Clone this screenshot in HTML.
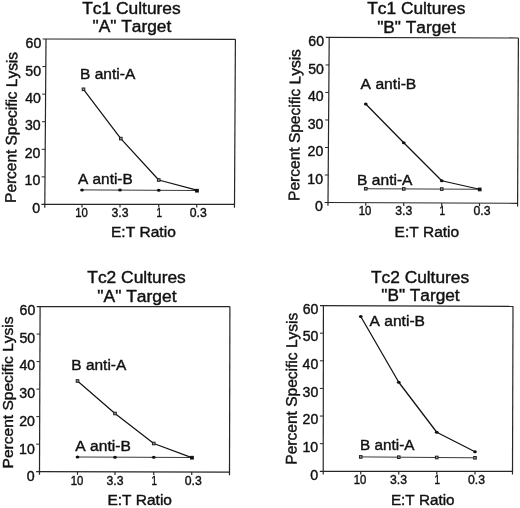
<!DOCTYPE html>
<html><head><meta charset="utf-8"><title>Figure</title>
<style>html,body{margin:0;padding:0;background:#fff}svg{display:block}text{font-family:"Liberation Sans", sans-serif;font-kerning:none;}</style>
</head><body>
<svg width="520" height="508" viewBox="0 0 520 508">
<rect width="520" height="508" fill="#fff"/>
<line x1="42.60" y1="39.00" x2="235.40" y2="39.30" stroke="#262626" stroke-width="1.2"/>
<line x1="46.00" y1="39.00" x2="44.78" y2="207.65" stroke="#262626" stroke-width="1.2"/>
<line x1="235.40" y1="39.30" x2="234.48" y2="207.65" stroke="#262626" stroke-width="1.2"/>
<line x1="41.40" y1="204.45" x2="234.50" y2="204.45" stroke="#262626" stroke-width="1.2"/>
<line x1="41.60" y1="176.88" x2="45.00" y2="176.88" stroke="#262626" stroke-width="1.0"/>
<line x1="41.80" y1="149.30" x2="45.20" y2="149.30" stroke="#262626" stroke-width="1.0"/>
<line x1="42.00" y1="121.72" x2="45.40" y2="121.72" stroke="#262626" stroke-width="1.0"/>
<line x1="42.20" y1="94.15" x2="45.60" y2="94.15" stroke="#262626" stroke-width="1.0"/>
<line x1="42.40" y1="66.57" x2="45.80" y2="66.57" stroke="#262626" stroke-width="1.0"/>
<line x1="82.00" y1="204.45" x2="82.00" y2="207.55" stroke="#262626" stroke-width="1.15"/>
<line x1="120.00" y1="204.45" x2="120.00" y2="207.55" stroke="#262626" stroke-width="1.15"/>
<line x1="158.75" y1="204.45" x2="158.75" y2="207.55" stroke="#262626" stroke-width="1.15"/>
<line x1="196.75" y1="204.45" x2="196.75" y2="207.55" stroke="#262626" stroke-width="1.15"/>
<text x="32.15" y="212.85" font-size="13.8" textLength="7.90" lengthAdjust="spacingAndGlyphs" fill="#111" stroke="#111" stroke-width="0.4">0</text>
<text x="24.55" y="185.39" font-size="13.8" textLength="15.70" lengthAdjust="spacingAndGlyphs" fill="#111" stroke="#111" stroke-width="0.4">10</text>
<text x="24.75" y="157.93" font-size="13.8" textLength="15.70" lengthAdjust="spacingAndGlyphs" fill="#111" stroke="#111" stroke-width="0.4">20</text>
<text x="24.95" y="130.47" font-size="13.8" textLength="15.70" lengthAdjust="spacingAndGlyphs" fill="#111" stroke="#111" stroke-width="0.4">30</text>
<text x="25.15" y="103.02" font-size="13.8" textLength="15.70" lengthAdjust="spacingAndGlyphs" fill="#111" stroke="#111" stroke-width="0.4">40</text>
<text x="25.35" y="75.56" font-size="13.8" textLength="15.70" lengthAdjust="spacingAndGlyphs" fill="#111" stroke="#111" stroke-width="0.4">50</text>
<text x="25.55" y="48.10" font-size="13.8" textLength="15.70" lengthAdjust="spacingAndGlyphs" fill="#111" stroke="#111" stroke-width="0.4">60</text>
<text x="75.20" y="217.20" font-size="12.6" textLength="12.60" lengthAdjust="spacingAndGlyphs" fill="#111" stroke="#111" stroke-width="0.4">10</text>
<text x="111.50" y="217.20" font-size="12.6" textLength="17.00" lengthAdjust="spacingAndGlyphs" fill="#111" stroke="#111" stroke-width="0.4">3.3</text>
<text x="156.50" y="217.20" font-size="12.6" textLength="5.50" lengthAdjust="spacingAndGlyphs" fill="#111" stroke="#111" stroke-width="0.4">1</text>
<text x="189.75" y="217.20" font-size="12.6" textLength="17.00" lengthAdjust="spacingAndGlyphs" fill="#111" stroke="#111" stroke-width="0.4">0.3</text>
<text x="111.00" y="237.40" font-size="15.2" textLength="64.80" lengthAdjust="spacingAndGlyphs" fill="#111" stroke="#111" stroke-width="0.4">E:T Ratio</text>
<text transform="translate(15.80,202.90) rotate(-89.42)" x="0" y="0" font-size="15.4" textLength="150.90" lengthAdjust="spacingAndGlyphs" fill="#111" stroke="#111" stroke-width="0.4">Percent Specific Lysis</text>
<text x="82.20" y="14.15" font-size="16" textLength="98.50" lengthAdjust="spacingAndGlyphs" fill="#111" stroke="#111" stroke-width="0.4">Tc1 Cultures</text>
<text x="92.50" y="32.45" font-size="16" textLength="78.80" lengthAdjust="spacingAndGlyphs" fill="#111" stroke="#111" stroke-width="0.4">&quot;A&quot; Target</text>
<polyline points="82.00,189.90 120.00,190.10 158.75,190.30 196.75,190.50" fill="none" stroke="#222" stroke-width="0.9" stroke-linejoin="round"/>
<polyline points="83.50,89.30 120.80,138.60 158.75,180.00 196.75,190.20" fill="none" stroke="#111" stroke-width="1.2" stroke-linejoin="round"/>
<ellipse cx="82.00" cy="189.90" rx="1.85" ry="1.5" fill="#111"/>
<ellipse cx="120.00" cy="190.10" rx="1.85" ry="1.5" fill="#111"/>
<ellipse cx="158.75" cy="190.30" rx="1.85" ry="1.5" fill="#111"/>
<rect x="82.20" y="88.00" width="2.6" height="2.6" fill="#999" stroke="#222" stroke-width="1.0"/>
<rect x="119.50" y="137.30" width="2.6" height="2.6" fill="#999" stroke="#222" stroke-width="1.0"/>
<rect x="157.45" y="178.70" width="2.6" height="2.6" fill="#999" stroke="#222" stroke-width="1.0"/>
<rect x="195.60" y="189.35" width="2.7" height="2.7" fill="#111" stroke="#111" stroke-width="1.0"/>
<text x="80.00" y="78.80" font-size="15.3" textLength="55.30" lengthAdjust="spacingAndGlyphs" fill="#111" stroke="#111" stroke-width="0.4">B anti-A</text>
<text x="78.00" y="184.00" font-size="15.3" textLength="54.70" lengthAdjust="spacingAndGlyphs" fill="#111" stroke="#111" stroke-width="0.4">A anti-B</text>
<line x1="325.80" y1="37.45" x2="518.40" y2="38.00" stroke="#262626" stroke-width="1.2"/>
<line x1="329.20" y1="37.45" x2="327.98" y2="205.70" stroke="#262626" stroke-width="1.2"/>
<line x1="518.40" y1="38.00" x2="517.58" y2="206.50" stroke="#262626" stroke-width="1.2"/>
<line x1="324.60" y1="202.50" x2="517.60" y2="203.30" stroke="#262626" stroke-width="1.2"/>
<line x1="324.80" y1="174.99" x2="328.20" y2="174.99" stroke="#262626" stroke-width="1.0"/>
<line x1="325.00" y1="147.48" x2="328.40" y2="147.48" stroke="#262626" stroke-width="1.0"/>
<line x1="325.20" y1="119.97" x2="328.60" y2="119.97" stroke="#262626" stroke-width="1.0"/>
<line x1="325.40" y1="92.47" x2="328.80" y2="92.47" stroke="#262626" stroke-width="1.0"/>
<line x1="325.60" y1="64.96" x2="329.00" y2="64.96" stroke="#262626" stroke-width="1.0"/>
<line x1="365.75" y1="202.66" x2="365.75" y2="205.76" stroke="#262626" stroke-width="1.15"/>
<line x1="403.75" y1="202.82" x2="403.75" y2="205.92" stroke="#262626" stroke-width="1.15"/>
<line x1="441.75" y1="202.98" x2="441.75" y2="206.08" stroke="#262626" stroke-width="1.15"/>
<line x1="479.50" y1="203.14" x2="479.50" y2="206.24" stroke="#262626" stroke-width="1.15"/>
<text x="314.95" y="211.10" font-size="13.8" textLength="7.90" lengthAdjust="spacingAndGlyphs" fill="#111" stroke="#111" stroke-width="0.4">0</text>
<text x="307.35" y="183.59" font-size="13.8" textLength="15.70" lengthAdjust="spacingAndGlyphs" fill="#111" stroke="#111" stroke-width="0.4">10</text>
<text x="307.55" y="156.08" font-size="13.8" textLength="15.70" lengthAdjust="spacingAndGlyphs" fill="#111" stroke="#111" stroke-width="0.4">20</text>
<text x="307.75" y="128.57" font-size="13.8" textLength="15.70" lengthAdjust="spacingAndGlyphs" fill="#111" stroke="#111" stroke-width="0.4">30</text>
<text x="307.95" y="101.07" font-size="13.8" textLength="15.70" lengthAdjust="spacingAndGlyphs" fill="#111" stroke="#111" stroke-width="0.4">40</text>
<text x="308.15" y="73.56" font-size="13.8" textLength="15.70" lengthAdjust="spacingAndGlyphs" fill="#111" stroke="#111" stroke-width="0.4">50</text>
<text x="308.35" y="46.05" font-size="13.8" textLength="15.70" lengthAdjust="spacingAndGlyphs" fill="#111" stroke="#111" stroke-width="0.4">60</text>
<text x="358.65" y="215.40" font-size="12.6" textLength="12.60" lengthAdjust="spacingAndGlyphs" fill="#111" stroke="#111" stroke-width="0.4">10</text>
<text x="395.25" y="215.40" font-size="12.6" textLength="17.00" lengthAdjust="spacingAndGlyphs" fill="#111" stroke="#111" stroke-width="0.4">3.3</text>
<text x="439.60" y="215.40" font-size="12.6" textLength="5.50" lengthAdjust="spacingAndGlyphs" fill="#111" stroke="#111" stroke-width="0.4">1</text>
<text x="473.50" y="215.40" font-size="12.6" textLength="17.00" lengthAdjust="spacingAndGlyphs" fill="#111" stroke="#111" stroke-width="0.4">0.3</text>
<text x="394.60" y="237.00" font-size="15.2" textLength="64.60" lengthAdjust="spacingAndGlyphs" fill="#111" stroke="#111" stroke-width="0.4">E:T Ratio</text>
<text transform="translate(299.20,200.90) rotate(-89.54)" x="0" y="0" font-size="15.4" textLength="151.80" lengthAdjust="spacingAndGlyphs" fill="#111" stroke="#111" stroke-width="0.4">Percent Specific Lysis</text>
<text x="367.30" y="14.15" font-size="16" textLength="98.00" lengthAdjust="spacingAndGlyphs" fill="#111" stroke="#111" stroke-width="0.4">Tc1 Cultures</text>
<text x="377.20" y="32.55" font-size="16" textLength="78.60" lengthAdjust="spacingAndGlyphs" fill="#111" stroke="#111" stroke-width="0.4">&quot;B&quot; Target</text>
<polyline points="365.75,188.75 403.75,188.92 441.75,189.08 479.50,189.25" fill="none" stroke="#222" stroke-width="0.9" stroke-linejoin="round"/>
<polyline points="365.75,104.00 403.75,142.80 441.75,180.75 479.50,189.25" fill="none" stroke="#111" stroke-width="1.25" stroke-linejoin="round"/>
<rect x="364.45" y="187.45" width="2.6" height="2.6" fill="#999" stroke="#222" stroke-width="1.0"/>
<rect x="402.45" y="187.62" width="2.6" height="2.6" fill="#999" stroke="#222" stroke-width="1.0"/>
<rect x="440.45" y="187.78" width="2.6" height="2.6" fill="#999" stroke="#222" stroke-width="1.0"/>
<ellipse cx="365.75" cy="104.00" rx="1.85" ry="1.5" fill="#111"/>
<ellipse cx="403.75" cy="142.80" rx="1.85" ry="1.5" fill="#111"/>
<ellipse cx="441.75" cy="180.75" rx="1.85" ry="1.5" fill="#111"/>
<rect x="478.35" y="188.10" width="2.7" height="2.7" fill="#111" stroke="#111" stroke-width="1.0"/>
<text x="360.60" y="88.70" font-size="15.3" textLength="55.70" lengthAdjust="spacingAndGlyphs" fill="#111" stroke="#111" stroke-width="0.4">A anti-B</text>
<text x="357.10" y="184.70" font-size="15.3" textLength="55.40" lengthAdjust="spacingAndGlyphs" fill="#111" stroke="#111" stroke-width="0.4">B anti-A</text>
<line x1="36.70" y1="306.55" x2="229.90" y2="306.60" stroke="#262626" stroke-width="1.2"/>
<line x1="40.10" y1="306.55" x2="39.49" y2="474.85" stroke="#262626" stroke-width="1.2"/>
<line x1="229.90" y1="306.60" x2="229.49" y2="475.30" stroke="#262626" stroke-width="1.2"/>
<line x1="36.10" y1="471.65" x2="229.50" y2="472.10" stroke="#262626" stroke-width="1.2"/>
<line x1="36.20" y1="444.13" x2="39.60" y2="444.13" stroke="#262626" stroke-width="1.0"/>
<line x1="36.30" y1="416.62" x2="39.70" y2="416.62" stroke="#262626" stroke-width="1.0"/>
<line x1="36.40" y1="389.10" x2="39.80" y2="389.10" stroke="#262626" stroke-width="1.0"/>
<line x1="36.50" y1="361.58" x2="39.90" y2="361.58" stroke="#262626" stroke-width="1.0"/>
<line x1="36.60" y1="334.07" x2="40.00" y2="334.07" stroke="#262626" stroke-width="1.0"/>
<line x1="77.50" y1="471.74" x2="77.50" y2="474.84" stroke="#262626" stroke-width="1.15"/>
<line x1="115.00" y1="471.83" x2="115.00" y2="474.93" stroke="#262626" stroke-width="1.15"/>
<line x1="153.75" y1="471.92" x2="153.75" y2="475.02" stroke="#262626" stroke-width="1.15"/>
<line x1="191.75" y1="472.01" x2="191.75" y2="475.11" stroke="#262626" stroke-width="1.15"/>
<text x="26.80" y="481.35" font-size="13.8" textLength="7.90" lengthAdjust="spacingAndGlyphs" fill="#111" stroke="#111" stroke-width="0.4">0</text>
<text x="19.10" y="453.60" font-size="13.8" textLength="15.70" lengthAdjust="spacingAndGlyphs" fill="#111" stroke="#111" stroke-width="0.4">10</text>
<text x="19.20" y="425.85" font-size="13.8" textLength="15.70" lengthAdjust="spacingAndGlyphs" fill="#111" stroke="#111" stroke-width="0.4">20</text>
<text x="19.30" y="398.10" font-size="13.8" textLength="15.70" lengthAdjust="spacingAndGlyphs" fill="#111" stroke="#111" stroke-width="0.4">30</text>
<text x="19.40" y="370.35" font-size="13.8" textLength="15.70" lengthAdjust="spacingAndGlyphs" fill="#111" stroke="#111" stroke-width="0.4">40</text>
<text x="19.50" y="342.60" font-size="13.8" textLength="15.70" lengthAdjust="spacingAndGlyphs" fill="#111" stroke="#111" stroke-width="0.4">50</text>
<text x="19.60" y="314.85" font-size="13.8" textLength="15.70" lengthAdjust="spacingAndGlyphs" fill="#111" stroke="#111" stroke-width="0.4">60</text>
<text x="70.70" y="484.70" font-size="12.6" textLength="12.60" lengthAdjust="spacingAndGlyphs" fill="#111" stroke="#111" stroke-width="0.4">10</text>
<text x="106.50" y="484.70" font-size="12.6" textLength="17.00" lengthAdjust="spacingAndGlyphs" fill="#111" stroke="#111" stroke-width="0.4">3.3</text>
<text x="151.50" y="484.70" font-size="12.6" textLength="5.50" lengthAdjust="spacingAndGlyphs" fill="#111" stroke="#111" stroke-width="0.4">1</text>
<text x="184.75" y="484.70" font-size="12.6" textLength="17.00" lengthAdjust="spacingAndGlyphs" fill="#111" stroke="#111" stroke-width="0.4">0.3</text>
<text x="107.40" y="505.20" font-size="15.2" textLength="64.60" lengthAdjust="spacingAndGlyphs" fill="#111" stroke="#111" stroke-width="0.4">E:T Ratio</text>
<text transform="translate(12.50,468.40) rotate(-90)" x="0" y="0" font-size="15.4" textLength="152.00" lengthAdjust="spacingAndGlyphs" fill="#111" stroke="#111" stroke-width="0.4">Percent Specific Lysis</text>
<text x="87.30" y="283.25" font-size="16" textLength="98.50" lengthAdjust="spacingAndGlyphs" fill="#111" stroke="#111" stroke-width="0.4">Tc2 Cultures</text>
<text x="97.30" y="301.60" font-size="16" textLength="79.30" lengthAdjust="spacingAndGlyphs" fill="#111" stroke="#111" stroke-width="0.4">&quot;A&quot; Target</text>
<polyline points="77.50,457.00 115.00,457.16 153.75,457.33 191.75,457.50" fill="none" stroke="#222" stroke-width="0.9" stroke-linejoin="round"/>
<polyline points="77.50,381.00 115.00,413.50 153.75,443.50 191.75,457.60" fill="none" stroke="#111" stroke-width="1.2" stroke-linejoin="round"/>
<ellipse cx="77.50" cy="457.00" rx="1.85" ry="1.5" fill="#111"/>
<ellipse cx="115.00" cy="457.16" rx="1.85" ry="1.5" fill="#111"/>
<ellipse cx="153.75" cy="457.33" rx="1.85" ry="1.5" fill="#111"/>
<rect x="76.20" y="379.70" width="2.6" height="2.6" fill="#999" stroke="#222" stroke-width="1.0"/>
<rect x="113.70" y="412.20" width="2.6" height="2.6" fill="#999" stroke="#222" stroke-width="1.0"/>
<rect x="152.45" y="442.20" width="2.6" height="2.6" fill="#999" stroke="#222" stroke-width="1.0"/>
<rect x="190.60" y="456.35" width="2.7" height="2.7" fill="#111" stroke="#111" stroke-width="1.0"/>
<text x="71.30" y="369.60" font-size="15.3" textLength="55.00" lengthAdjust="spacingAndGlyphs" fill="#111" stroke="#111" stroke-width="0.4">B anti-A</text>
<text x="75.30" y="450.50" font-size="15.3" textLength="55.50" lengthAdjust="spacingAndGlyphs" fill="#111" stroke="#111" stroke-width="0.4">A anti-B</text>
<line x1="320.00" y1="305.55" x2="513.00" y2="306.30" stroke="#262626" stroke-width="1.2"/>
<line x1="323.40" y1="305.55" x2="323.20" y2="474.50" stroke="#262626" stroke-width="1.2"/>
<line x1="513.00" y1="306.30" x2="512.49" y2="474.50" stroke="#262626" stroke-width="1.2"/>
<line x1="319.80" y1="471.30" x2="512.50" y2="471.30" stroke="#262626" stroke-width="1.2"/>
<line x1="319.83" y1="443.68" x2="323.23" y2="443.68" stroke="#262626" stroke-width="1.0"/>
<line x1="319.87" y1="416.05" x2="323.27" y2="416.05" stroke="#262626" stroke-width="1.0"/>
<line x1="319.90" y1="388.43" x2="323.30" y2="388.43" stroke="#262626" stroke-width="1.0"/>
<line x1="319.93" y1="360.80" x2="323.33" y2="360.80" stroke="#262626" stroke-width="1.0"/>
<line x1="319.97" y1="333.18" x2="323.37" y2="333.18" stroke="#262626" stroke-width="1.0"/>
<line x1="360.75" y1="471.30" x2="360.75" y2="474.40" stroke="#262626" stroke-width="1.15"/>
<line x1="398.75" y1="471.30" x2="398.75" y2="474.40" stroke="#262626" stroke-width="1.15"/>
<line x1="436.75" y1="471.30" x2="436.75" y2="474.40" stroke="#262626" stroke-width="1.15"/>
<line x1="475.00" y1="471.30" x2="475.00" y2="474.40" stroke="#262626" stroke-width="1.15"/>
<text x="310.30" y="479.50" font-size="13.8" textLength="7.90" lengthAdjust="spacingAndGlyphs" fill="#111" stroke="#111" stroke-width="0.4">0</text>
<text x="302.53" y="451.89" font-size="13.8" textLength="15.70" lengthAdjust="spacingAndGlyphs" fill="#111" stroke="#111" stroke-width="0.4">10</text>
<text x="302.57" y="424.28" font-size="13.8" textLength="15.70" lengthAdjust="spacingAndGlyphs" fill="#111" stroke="#111" stroke-width="0.4">20</text>
<text x="302.60" y="396.68" font-size="13.8" textLength="15.70" lengthAdjust="spacingAndGlyphs" fill="#111" stroke="#111" stroke-width="0.4">30</text>
<text x="302.63" y="369.07" font-size="13.8" textLength="15.70" lengthAdjust="spacingAndGlyphs" fill="#111" stroke="#111" stroke-width="0.4">40</text>
<text x="302.67" y="341.46" font-size="13.8" textLength="15.70" lengthAdjust="spacingAndGlyphs" fill="#111" stroke="#111" stroke-width="0.4">50</text>
<text x="302.70" y="313.85" font-size="13.8" textLength="15.70" lengthAdjust="spacingAndGlyphs" fill="#111" stroke="#111" stroke-width="0.4">60</text>
<text x="353.75" y="484.30" font-size="12.6" textLength="12.60" lengthAdjust="spacingAndGlyphs" fill="#111" stroke="#111" stroke-width="0.4">10</text>
<text x="390.05" y="484.30" font-size="12.6" textLength="17.00" lengthAdjust="spacingAndGlyphs" fill="#111" stroke="#111" stroke-width="0.4">3.3</text>
<text x="434.50" y="484.30" font-size="12.6" textLength="5.50" lengthAdjust="spacingAndGlyphs" fill="#111" stroke="#111" stroke-width="0.4">1</text>
<text x="468.00" y="484.30" font-size="12.6" textLength="17.00" lengthAdjust="spacingAndGlyphs" fill="#111" stroke="#111" stroke-width="0.4">0.3</text>
<text x="390.90" y="504.70" font-size="15.2" textLength="63.70" lengthAdjust="spacingAndGlyphs" fill="#111" stroke="#111" stroke-width="0.4">E:T Ratio</text>
<text transform="translate(296.40,464.70) rotate(-89.66)" x="0" y="0" font-size="15.4" textLength="152.00" lengthAdjust="spacingAndGlyphs" fill="#111" stroke="#111" stroke-width="0.4">Percent Specific Lysis</text>
<text x="371.00" y="283.20" font-size="16" textLength="98.10" lengthAdjust="spacingAndGlyphs" fill="#111" stroke="#111" stroke-width="0.4">Tc2 Cultures</text>
<text x="381.30" y="300.70" font-size="16" textLength="78.30" lengthAdjust="spacingAndGlyphs" fill="#111" stroke="#111" stroke-width="0.4">&quot;B&quot; Target</text>
<polyline points="360.75,456.90 398.75,457.20 436.75,457.50 475.00,457.80" fill="none" stroke="#222" stroke-width="0.9" stroke-linejoin="round"/>
<polyline points="360.75,316.50 398.75,382.25 436.75,432.25 475.00,451.75" fill="none" stroke="#111" stroke-width="1.25" stroke-linejoin="round"/>
<rect x="359.45" y="455.60" width="2.6" height="2.6" fill="#999" stroke="#222" stroke-width="1.0"/>
<rect x="397.45" y="455.90" width="2.6" height="2.6" fill="#999" stroke="#222" stroke-width="1.0"/>
<rect x="435.45" y="456.20" width="2.6" height="2.6" fill="#999" stroke="#222" stroke-width="1.0"/>
<ellipse cx="360.75" cy="316.50" rx="1.85" ry="1.5" fill="#111"/>
<ellipse cx="398.75" cy="382.25" rx="1.85" ry="1.5" fill="#111"/>
<ellipse cx="436.75" cy="432.25" rx="1.85" ry="1.5" fill="#111"/>
<rect x="473.70" y="456.50" width="2.6" height="2.6" fill="#999" stroke="#222" stroke-width="1.0"/>
<ellipse cx="475.00" cy="451.75" rx="1.85" ry="1.5" fill="#111"/>
<text x="369.50" y="325.70" font-size="15.3" textLength="55.50" lengthAdjust="spacingAndGlyphs" fill="#111" stroke="#111" stroke-width="0.4">A anti-B</text>
<text x="360.00" y="449.75" font-size="15.3" textLength="54.50" lengthAdjust="spacingAndGlyphs" fill="#111" stroke="#111" stroke-width="0.4">B anti-A</text>
</svg>
</body></html>
